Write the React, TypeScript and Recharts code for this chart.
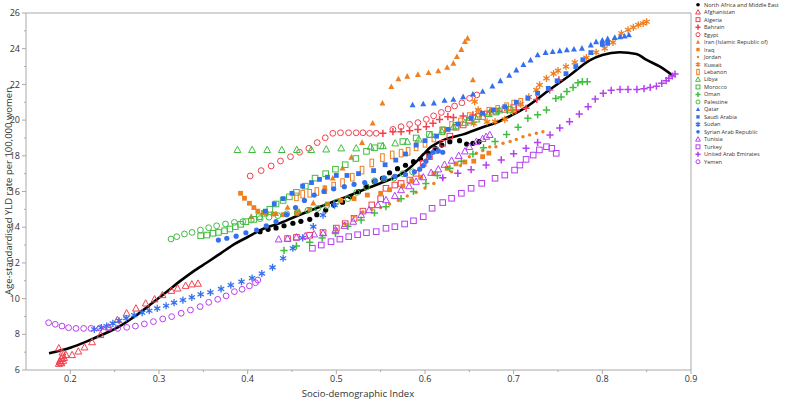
import React from 'react';
import { ComposedChart, Scatter, Line, XAxis, YAxis, ReferenceLine } from 'recharts';

type Pt = [number, number];

const RED = '#f2404f';
const ORANGE = '#ef7f1f';
const GREEN = '#3fbd3f';
const BLUE = '#3470ee';
const PURPLE = '#b63ff0';
const AXIS = '#a9a9a9';
const FONT = '"Open Sans", sans-serif';

const xTicks = [0.2, 0.25, 0.3, 0.35, 0.4, 0.45, 0.5, 0.55, 0.6, 0.65, 0.7, 0.75, 0.8, 0.85, 0.9];
const yTicks = [6, 7, 8, 9, 10, 11, 12, 13, 14, 15, 16, 17, 18, 19, 20, 21, 22, 23, 24, 25, 26];

const expectedCurve: Pt[] = [
  [0.176, 6.94], [0.2, 7.25], [0.218, 7.59], [0.237, 8.0], [0.255, 8.43], [0.274, 9.05],
  [0.2925, 9.75], [0.308, 10.35], [0.323, 10.95], [0.338, 11.5], [0.355, 12.05], [0.37, 12.55],
  [0.385, 13.05], [0.4, 13.45], [0.417, 13.9], [0.435, 14.2], [0.454, 14.6], [0.473, 14.98],
  [0.4923, 15.35], [0.511, 15.7], [0.53, 16.08], [0.549, 16.45], [0.5677, 16.83], [0.58, 17.2],
  [0.5903, 17.67], [0.5985, 18.1], [0.6054, 18.45], [0.614, 18.72], [0.624, 18.95], [0.643, 19.2],
  [0.665, 19.6], [0.68, 19.85], [0.695, 20.2], [0.71, 20.6], [0.7406, 21.7], [0.763, 22.5],
  [0.7857, 23.35], [0.8, 23.65], [0.8196, 23.8], [0.8384, 23.7], [0.85, 23.37], [0.865, 22.99],
  [0.88, 22.47],
];

const northAfricaMiddleEast: Pt[] = [
  [0.414, 13.75], [0.423, 13.88], [0.432, 13.96], [0.441, 14.08], [0.451, 14.22], [0.46, 14.33],
  [0.47, 14.44], [0.478, 14.7], [0.488, 14.96], [0.497, 15.24], [0.507, 15.4], [0.516, 15.71],
  [0.525, 15.99], [0.534, 16.3], [0.543, 16.55], [0.552, 16.74], [0.56, 17.05], [0.569, 17.28],
  [0.578, 17.47], [0.587, 17.67], [0.595, 17.82], [0.604, 18.14], [0.612, 18.4], [0.619, 18.6],
  [0.628, 18.79], [0.639, 18.85], [0.647, 18.66], [0.654, 18.7], [0.661, 18.79],
];

const afghanistan: Pt[] = [
  [0.187, 6.35], [0.188, 6.5], [0.189, 6.42], [0.19, 6.62], [0.19, 6.38], [0.191, 6.78],
  [0.192, 6.52], [0.193, 6.68], [0.187, 7.22], [0.191, 6.98], [0.195, 6.85], [0.202, 6.84],
  [0.209, 7.04], [0.216, 7.27], [0.2245, 7.56], [0.234, 7.96], [0.243, 8.39], [0.253, 8.8],
  [0.2635, 9.18], [0.274, 9.45], [0.285, 9.73], [0.295, 9.96], [0.304, 10.2], [0.314, 10.44],
  [0.321, 10.57], [0.33, 10.72], [0.337, 10.8], [0.344, 10.84],
];

const algeria: Pt[] = [
  [0.445, 13.36], [0.455, 13.43], [0.47, 13.55], [0.485, 13.7], [0.5, 13.95], [0.51, 14.2],
  [0.52, 14.5], [0.53, 14.9], [0.54, 15.25], [0.55, 15.6], [0.556, 16.18], [0.566, 16.36],
  [0.573, 16.45], [0.583, 16.64], [0.59, 17.02], [0.598, 17.58], [0.605, 17.95], [0.612, 18.3],
  [0.62, 18.7], [0.628, 19.1], [0.635, 19.6], [0.643, 19.73], [0.65, 20.0], [0.66, 20.2],
  [0.67, 20.35], [0.68, 20.5], [0.69, 20.6], [0.7, 20.7],
];

const bahrain: Pt[] = [
  [0.5525, 19.26], [0.5638, 19.35], [0.573, 19.35], [0.5826, 19.4], [0.592, 19.48], [0.6015, 19.63],
  [0.609, 19.82], [0.6165, 20.04], [0.6258, 20.19], [0.632, 20.15], [0.643, 20.23], [0.654, 20.29],
  [0.6635, 20.38], [0.673, 20.45], [0.683, 20.5], [0.693, 20.55], [0.703, 20.57], [0.714, 20.66],
  [0.726, 21.16], [0.7406, 21.69], [0.751, 22.25],
];

const egypt: Pt[] = [
  [0.4028, 16.87], [0.4152, 17.17], [0.4265, 17.43], [0.437, 17.71], [0.4483, 17.95], [0.4585, 18.2],
  [0.469, 18.42], [0.4784, 18.74], [0.4875, 19.01], [0.496, 19.26], [0.5047, 19.29], [0.5138, 19.29],
  [0.5224, 19.29], [0.53, 19.29], [0.5375, 19.26], [0.545, 19.26], [0.5638, 19.48], [0.573, 19.63],
  [0.5826, 19.76], [0.592, 19.86], [0.6015, 20.04], [0.6097, 20.24], [0.6184, 20.43], [0.626, 20.62],
  [0.6334, 20.79], [0.6416, 20.97], [0.6503, 21.22], [0.6585, 21.41],
];

const iran: Pt[] = [
  [0.404, 14.59], [0.417, 14.81], [0.432, 14.75], [0.445, 15.1], [0.458, 14.9], [0.474, 15.35],
  [0.487, 16.2], [0.496, 16.74], [0.507, 17.3], [0.517, 17.91], [0.529, 18.74], [0.541, 19.82],
  [0.552, 20.94], [0.562, 21.87], [0.57, 22.3], [0.58, 22.45], [0.592, 22.55], [0.604, 22.65],
  [0.615, 22.75], [0.625, 22.95], [0.632, 23.18], [0.636, 23.55], [0.641, 23.95], [0.645, 24.39],
  [0.648, 24.58], [0.654, 22.25],
];

const iraq: Pt[] = [
  [0.392, 15.9], [0.3964, 15.62], [0.402, 15.34], [0.407, 15.1], [0.4114, 14.9], [0.421, 14.78],
  [0.429, 14.74], [0.44, 14.7], [0.455, 14.8], [0.47, 15.0], [0.49, 15.3], [0.505, 15.5],
  [0.52, 15.6], [0.535, 15.8], [0.55, 15.9], [0.56, 16.1], [0.575, 16.3], [0.585, 16.6],
  [0.595, 16.8], [0.61, 17.0], [0.625, 17.3], [0.635, 17.55], [0.645, 17.65], [0.655, 17.7],
  [0.665, 17.95], [0.672, 18.15],
];

const jordan: Pt[] = [
  [0.5, 13.9], [0.51, 14.2], [0.52, 14.6], [0.53, 14.85], [0.54, 15.0], [0.55, 15.1],
  [0.56, 15.3], [0.57, 15.5], [0.58, 15.75], [0.59, 15.95], [0.6, 16.2], [0.61, 16.45],
  [0.62, 16.75], [0.63, 17.1], [0.64, 17.45], [0.65, 17.95], [0.658, 18.14], [0.665, 18.3],
  [0.673, 18.5], [0.68, 18.51], [0.688, 18.7], [0.696, 18.8], [0.703, 18.92], [0.7105, 19.07],
  [0.718, 19.17], [0.7256, 19.26], [0.733, 19.35],
];

const kuwait: Pt[] = [
  [0.655, 19.8], [0.656, 21.03], [0.66, 20.57], [0.67, 19.9], [0.679, 19.91], [0.69, 20.04],
  [0.699, 20.47], [0.708, 20.9], [0.717, 21.3], [0.7256, 21.69], [0.7293, 21.97], [0.737, 22.34],
  [0.745, 22.6], [0.75, 22.77], [0.759, 23.0], [0.769, 23.24], [0.782, 23.5], [0.793, 23.8],
  [0.8027, 24.02], [0.812, 24.35], [0.8215, 24.86], [0.829, 25.06], [0.835, 25.2], [0.8405, 25.33],
  [0.846, 25.42], [0.85, 25.51],
];

const lebanon: Pt[] = [
  [0.455, 15.7], [0.462, 15.85], [0.47, 15.9], [0.478, 16.0], [0.487, 16.1], [0.497, 16.3],
  [0.507, 16.5], [0.518, 16.8], [0.529, 17.2], [0.54, 17.6], [0.552, 17.9], [0.563, 18.05],
  [0.573, 18.15], [0.581, 18.25], [0.59, 18.5], [0.6, 18.7], [0.61, 19.0], [0.62, 19.4],
  [0.63, 19.7], [0.64, 19.9], [0.65, 20.2], [0.66, 20.4], [0.672, 20.5], [0.682, 20.6],
  [0.692, 20.75], [0.7, 20.9], [0.708, 21.0],
];

const libya: Pt[] = [
  [0.3885, 18.33], [0.405, 18.33], [0.422, 18.33], [0.4385, 18.33], [0.4554, 18.33], [0.4717, 18.33],
  [0.4886, 18.36], [0.5055, 18.42], [0.5224, 18.42], [0.5386, 18.51], [0.5525, 18.55], [0.5664, 18.7],
  [0.58, 18.79], [0.593, 18.92], [0.6063, 19.17], [0.619, 19.35], [0.632, 19.6], [0.645, 19.85],
  [0.658, 20.04], [0.672, 20.35], [0.684, 20.55],
];

const morocco: Pt[] = [
  [0.347, 13.52], [0.354, 13.56], [0.361, 13.66], [0.367, 13.71], [0.374, 13.8], [0.38, 13.9],
  [0.386, 14.03], [0.392, 14.16], [0.398, 14.31], [0.407, 14.44], [0.413, 14.59], [0.419, 14.78],
  [0.425, 15.0], [0.432, 15.3], [0.44, 15.5], [0.447, 15.7], [0.455, 15.95], [0.465, 16.3],
  [0.476, 16.75], [0.488, 17.0], [0.499, 17.25], [0.51, 17.5], [0.522, 17.85], [0.534, 18.25],
  [0.543, 18.45], [0.55, 18.55], [0.575, 18.8], [0.59, 19.0], [0.605, 19.2], [0.62, 19.45],
  [0.635, 19.7], [0.65, 19.95], [0.665, 20.2], [0.68, 20.45], [0.695, 20.6],
];

const oman: Pt[] = [
  [0.441, 12.7], [0.455, 12.95], [0.47, 13.15], [0.484, 13.4], [0.499, 13.65], [0.513, 14.05],
  [0.528, 14.4], [0.543, 14.8], [0.556, 15.15], [0.573, 15.6], [0.587, 16.0], [0.601, 16.45],
  [0.614, 16.9], [0.628, 17.3], [0.641, 17.7], [0.654, 18.1], [0.666, 18.45], [0.679, 18.8],
  [0.692, 19.2], [0.705, 19.6], [0.716, 20.1], [0.727, 20.3], [0.737, 20.57], [0.7475, 21.21],
  [0.7535, 21.3], [0.76, 21.6], [0.767, 21.83], [0.7725, 22.09], [0.7775, 22.15], [0.783, 22.15],
];

const palestine: Pt[] = [
  [0.3136, 13.34], [0.32, 13.47], [0.3287, 13.62], [0.3373, 13.71], [0.3467, 13.84], [0.356, 13.97],
  [0.365, 14.08], [0.375, 14.18], [0.385, 14.27], [0.3945, 14.31], [0.404, 14.4], [0.414, 14.48],
  [0.424, 14.56], [0.434, 14.65], [0.444, 14.75], [0.456, 14.8], [0.468, 14.95], [0.479, 15.05],
  [0.489, 15.2], [0.5, 15.4], [0.513, 15.6], [0.523, 15.95], [0.534, 16.25], [0.543, 16.6],
  [0.554, 16.72], [0.565, 16.75], [0.575, 17.0], [0.586, 17.1],
];

const qatar: Pt[] = [
  [0.586, 20.85], [0.598, 20.9], [0.61, 20.95], [0.622, 21.1], [0.632, 21.15], [0.643, 21.3],
  [0.654, 21.45], [0.665, 21.6], [0.676, 21.9], [0.685, 22.2], [0.695, 22.5], [0.703, 22.8],
  [0.711, 23.1], [0.719, 23.35], [0.727, 23.65], [0.736, 23.78], [0.744, 23.83], [0.752, 23.88],
  [0.76, 23.93], [0.768, 23.97], [0.777, 24.02], [0.787, 24.2], [0.793, 24.38], [0.8, 24.47],
  [0.806, 24.55], [0.814, 24.62], [0.82, 24.66], [0.825, 24.7], [0.83, 24.77],
];

const saudiArabia: Pt[] = [
  [0.42, 14.9], [0.43, 15.3], [0.44, 15.6], [0.45, 15.9], [0.462, 16.3], [0.472, 16.5],
  [0.481, 16.68], [0.49, 16.8], [0.5, 16.9], [0.512, 16.9], [0.525, 17.0], [0.542, 17.17],
  [0.555, 17.5], [0.567, 17.76], [0.578, 18.1], [0.59, 18.6], [0.6, 18.85], [0.613, 19.1],
  [0.626, 19.48], [0.637, 19.78], [0.652, 20.1], [0.665, 20.38], [0.677, 20.57], [0.69, 20.75],
  [0.703, 21.0], [0.716, 21.22], [0.727, 21.5], [0.739, 21.78], [0.749, 22.2], [0.759, 22.6],
  [0.77, 23.0], [0.778, 23.38], [0.787, 23.78], [0.8, 24.24], [0.806, 24.3],
];

const sudan: Pt[] = [
  [0.227, 8.28], [0.235, 8.37], [0.241, 8.46], [0.248, 8.61], [0.255, 8.76], [0.263, 8.9],
  [0.272, 9.08], [0.281, 9.21], [0.289, 9.32], [0.298, 9.45], [0.308, 9.6], [0.317, 9.77],
  [0.327, 9.92], [0.337, 10.07], [0.347, 10.24], [0.358, 10.35], [0.37, 10.54], [0.381, 10.76],
  [0.393, 10.95], [0.405, 11.15], [0.416, 11.4], [0.428, 11.75], [0.44, 12.26], [0.451, 12.82],
  [0.462, 13.4], [0.474, 14.03], [0.485, 14.68], [0.498, 15.24],
];

const syria: Pt[] = [
  [0.367, 13.28], [0.3765, 13.38], [0.387, 13.5], [0.398, 13.69], [0.41, 13.84], [0.421, 14.07],
  [0.432, 14.31], [0.444, 14.7], [0.454, 15.1], [0.464, 15.5], [0.475, 15.8], [0.486, 16.0],
  [0.497, 16.15], [0.509, 16.27], [0.52, 16.4], [0.532, 16.5], [0.544, 16.6], [0.554, 16.75],
  [0.566, 16.85], [0.578, 16.95], [0.588, 17.1], [0.594, 17.25], [0.598, 17.45], [0.601, 17.7],
  [0.605, 17.95], [0.609, 18.2], [0.615, 18.28], [0.62, 18.2],
];

const tunisia: Pt[] = [
  [0.435, 13.32], [0.445, 13.36], [0.455, 13.43], [0.465, 13.5], [0.475, 13.6], [0.485, 13.66],
  [0.499, 13.84], [0.509, 14.08], [0.519, 14.31], [0.528, 14.68], [0.537, 14.96], [0.547, 15.24],
  [0.556, 15.52], [0.566, 15.75], [0.573, 16.08], [0.582, 16.3], [0.59, 16.55], [0.598, 16.8],
  [0.607, 17.05], [0.615, 17.24], [0.622, 17.5], [0.63, 17.73], [0.638, 18.0], [0.645, 18.25],
  [0.65, 18.5], [0.658, 18.79], [0.665, 18.95], [0.669, 19.07], [0.673, 19.17],
];

const turkey: Pt[] = [
  [0.473, 12.82], [0.483, 13.0], [0.494, 13.19], [0.504, 13.33], [0.514, 13.47], [0.524, 13.58],
  [0.534, 13.69], [0.545, 13.75], [0.556, 13.94], [0.566, 14.03], [0.577, 14.18], [0.587, 14.36],
  [0.598, 14.59], [0.608, 15.06], [0.62, 15.38], [0.63, 15.62], [0.641, 15.9], [0.652, 16.18],
  [0.664, 16.46], [0.679, 16.74], [0.69, 16.92], [0.701, 17.2], [0.707, 17.48], [0.714, 17.8],
  [0.722, 18.04], [0.729, 18.33], [0.737, 18.51], [0.743, 18.42], [0.748, 18.14],
];

const unitedArabEmirates: Pt[] = [
  [0.62, 16.77], [0.637, 17.02], [0.652, 17.22], [0.669, 17.48], [0.686, 17.77], [0.7, 18.12],
  [0.714, 18.42], [0.727, 18.75], [0.741, 19.17], [0.752, 19.56], [0.763, 19.91], [0.774, 20.34],
  [0.784, 20.75], [0.792, 21.18], [0.801, 21.5], [0.81, 21.67], [0.82, 21.72], [0.829, 21.72],
  [0.839, 21.72], [0.847, 21.76], [0.854, 21.83], [0.861, 21.9], [0.867, 22.06], [0.872, 22.21],
  [0.875, 22.34], [0.879, 22.47], [0.882, 22.58],
];

const yemen: Pt[] = [
  [0.1755, 8.65], [0.183, 8.56], [0.1906, 8.46], [0.198, 8.37], [0.2064, 8.33], [0.215, 8.33],
  [0.2233, 8.33], [0.2332, 8.35], [0.2432, 8.37], [0.2534, 8.33], [0.2636, 8.39], [0.2734, 8.46],
  [0.2835, 8.58], [0.2937, 8.71], [0.3042, 8.86], [0.3143, 8.99], [0.325, 9.18], [0.3355, 9.36],
  [0.3464, 9.55], [0.3561, 9.79], [0.3662, 9.96], [0.3757, 10.15], [0.385, 10.39], [0.3937, 10.52],
  [0.402, 10.71], [0.4088, 10.89], [0.4114, 11.04],
];

type Kind =
  | 'dot' | 'smallDot' | 'circleOpen' | 'triOpen' | 'triFill'
  | 'squareOpen' | 'squareFill' | 'rectOpen' | 'plus' | 'star';

interface Series {
  name: string;
  data: Pt[];
  color: string;
  kind: Kind;
}

const seriesList: Series[] = [
  { name: 'North Africa and Middle East', data: northAfricaMiddleEast, color: '#000000', kind: 'dot' },
  { name: 'Afghanistan', data: afghanistan, color: RED, kind: 'triOpen' },
  { name: 'Algeria', data: algeria, color: RED, kind: 'squareOpen' },
  { name: 'Bahrain', data: bahrain, color: RED, kind: 'plus' },
  { name: 'Egypt', data: egypt, color: RED, kind: 'circleOpen' },
  { name: 'Iran (Islamic Republic of)', data: iran, color: ORANGE, kind: 'triFill' },
  { name: 'Iraq', data: iraq, color: ORANGE, kind: 'squareFill' },
  { name: 'Jordan', data: jordan, color: ORANGE, kind: 'smallDot' },
  { name: 'Kuwait', data: kuwait, color: ORANGE, kind: 'star' },
  { name: 'Lebanon', data: lebanon, color: ORANGE, kind: 'rectOpen' },
  { name: 'Libya', data: libya, color: GREEN, kind: 'triOpen' },
  { name: 'Morocco', data: morocco, color: GREEN, kind: 'squareOpen' },
  { name: 'Oman', data: oman, color: GREEN, kind: 'plus' },
  { name: 'Palestine', data: palestine, color: GREEN, kind: 'circleOpen' },
  { name: 'Qatar', data: qatar, color: BLUE, kind: 'triFill' },
  { name: 'Saudi Arabia', data: saudiArabia, color: BLUE, kind: 'squareFill' },
  { name: 'Sudan', data: sudan, color: BLUE, kind: 'star' },
  { name: 'Syrian Arab Republic', data: syria, color: BLUE, kind: 'dot' },
  { name: 'Tunisia', data: tunisia, color: PURPLE, kind: 'triOpen' },
  { name: 'Turkey', data: turkey, color: PURPLE, kind: 'squareOpen' },
  { name: 'United Arab Emirates', data: unitedArabEmirates, color: PURPLE, kind: 'plus' },
  { name: 'Yemen', data: yemen, color: PURPLE, kind: 'circleOpen' },
];

const toRows = (pts: Pt[]) => pts.map(([x, y]) => ({ x, y }));

// s = 1 for plot markers, smaller for the legend
const Marker = ({ cx, cy, kind, color, s = 1 }: { cx: number; cy: number; kind: Kind; color: string; s?: number }) => {
  if (cx == null || cy == null) return null;
  switch (kind) {
    case 'dot':
      return <circle cx={cx} cy={cy} r={2.6 * s} fill={color} />;
    case 'smallDot':
      return <circle cx={cx} cy={cy} r={1.7 * s} fill={color} />;
    case 'circleOpen':
      return <circle cx={cx} cy={cy} r={2.9 * s} fill="none" stroke={color} strokeWidth={1} />;
    case 'triOpen':
      return (
        <path
          d={`M${cx},${cy - 3.7 * s}L${cx + 3.4 * s},${cy + 2.6 * s}L${cx - 3.4 * s},${cy + 2.6 * s}Z`}
          fill="none"
          stroke={color}
          strokeWidth={1}
        />
      );
    case 'triFill':
      return (
        <path
          d={`M${cx},${cy - 3.3 * s}L${cx + 3 * s},${cy + 2.3 * s}L${cx - 3 * s},${cy + 2.3 * s}Z`}
          fill={color}
        />
      );
    case 'squareOpen':
      return <rect x={cx - 2.8 * s} y={cy - 2.8 * s} width={5.6 * s} height={5.6 * s} fill="none" stroke={color} strokeWidth={1} />;
    case 'squareFill':
      return <rect x={cx - 2.4 * s} y={cy - 2.4 * s} width={4.8 * s} height={4.8 * s} fill={color} />;
    case 'rectOpen':
      return <rect x={cx - 1.8 * s} y={cy - 3.8 * s} width={3.6 * s} height={7.6 * s} fill="none" stroke={color} strokeWidth={1} />;
    case 'plus':
      return (
        <path
          d={`M${cx - 3.6 * s},${cy}H${cx + 3.6 * s}M${cx},${cy - 3.6 * s}V${cy + 3.6 * s}`}
          stroke={color}
          strokeWidth={1.5}
        />
      );
    case 'star': {
      const r = 3.6 * s;
      const a = r * 0.866;
      const b = r * 0.5;
      return (
        <path
          d={`M${cx},${cy - r}V${cy + r}M${cx - a},${cy - b}L${cx + a},${cy + b}M${cx - a},${cy + b}L${cx + a},${cy - b}`}
          stroke={color}
          strokeWidth={1.3}
        />
      );
    }
    default:
      return null;
  }
};

const XTick = (props: any) => {
  const { x, y, payload } = props;
  const v = payload.value as number;
  const major = Math.abs(v * 10 - Math.round(v * 10)) < 1e-6;
  return (
    <g>
      <line x1={x} y1={y} x2={x} y2={y + (major ? 4 : 2)} stroke={AXIS} />
      {major && (
        <text x={x} y={y + 6} dy="0.71em" textAnchor="middle" fontSize={9} fontFamily={FONT} fill="#333">
          {v.toFixed(1)}
        </text>
      )}
    </g>
  );
};

const YTick = (props: any) => {
  const { x, y, payload } = props;
  const v = payload.value as number;
  const major = v % 2 === 0;
  return (
    <g>
      <line x1={x - (major ? 4 : 2)} y1={y} x2={x} y2={y} stroke={AXIS} />
      {major && (
        <text x={x - 6} y={y} dy="0.35em" textAnchor="end" fontSize={9} fontFamily={FONT} fill="#333">
          {v}
        </text>
      )}
    </g>
  );
};

const App: React.FC = () => {
  return (
    <div style={{ position: 'absolute', left: 0, top: 0, width: 794, height: 403, background: '#fff' }}>
      <ComposedChart width={794} height={403} margin={{ top: 13, right: 103, bottom: 0, left: 0 }}>
        <XAxis
          dataKey="x"
          type="number"
          domain={[0.15, 0.9]}
          ticks={xTicks}
          interval={0}
          height={33}
          tickSize={0}
          tickMargin={0}
          tickLine={false}
          axisLine={{ stroke: AXIS }}
          tick={<XTick />}
          allowDataOverflow
        />
        <YAxis
          dataKey="y"
          type="number"
          domain={[6, 26]}
          ticks={yTicks}
          interval={0}
          width={26}
          tickSize={0}
          tickMargin={0}
          tickLine={false}
          axisLine={{ stroke: AXIS }}
          tick={<YTick />}
          allowDataOverflow
        />
        <ReferenceLine y={26} stroke={AXIS} />
        <ReferenceLine x={0.9} stroke={AXIS} />
        {seriesList.map((s) => (
          <Scatter
            key={s.name}
            name={s.name}
            data={toRows(s.data)}
            isAnimationActive={false}
            shape={(p: any) => <Marker cx={p.cx} cy={p.cy} kind={s.kind} color={s.color} />}
          />
        ))}
        <Line
          data={toRows(expectedCurve)}
          dataKey="y"
          type="monotone"
          dot={false}
          activeDot={false}
          stroke="#000"
          strokeWidth={2.6}
          isAnimationActive={false}
        />
      </ComposedChart>
      <div
        style={{
          position: 'absolute',
          left: 8,
          top: 191,
          transform: 'translate(-50%, -50%) rotate(-90deg)',
          whiteSpace: 'nowrap',
          fontSize: 9.5,
          lineHeight: '11px',
          fontFamily: FONT,
          color: '#333',
          pointerEvents: 'none',
        }}
      >
        Age-standardised YLD rate per 100,000 women
      </div>
      <svg
        width={794}
        height={403}
        style={{ position: 'absolute', left: 0, top: 0, pointerEvents: 'none' }}
      >
        <text
          x={358}
          y={394}
          dy="0.35em"
          textAnchor="middle"
          fontSize={9.5}
          fontFamily={FONT}
          fill="#333"
        >
          Socio-demographic Index
        </text>
        {seriesList.map((s, i) => {
          const cy = 4.7 + i * 7.48;
          return (
            <g key={s.name}>
              <Marker cx={698} cy={cy} kind={s.kind} color={s.color} s={0.7} />
              <text x={704} y={cy} dy="0.35em" fontSize={5.6} fontFamily={FONT} fill="#333">
                {s.name}
              </text>
            </g>
          );
        })}
      </svg>
    </div>
  );
};

export default App;
